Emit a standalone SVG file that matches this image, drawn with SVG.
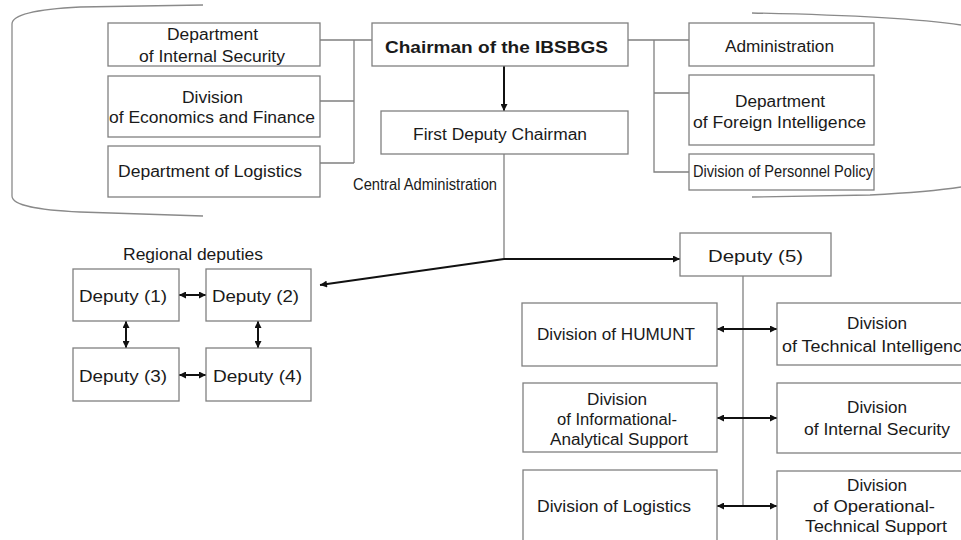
<svg xmlns="http://www.w3.org/2000/svg" width="961" height="540" viewBox="0 0 961 540">
<defs>
<style>
.box{fill:#fff;stroke:#808080;stroke-width:1.3}
.t{font-family:"Liberation Sans",Arial,sans-serif;font-size:16px;fill:#1a1a1a;text-anchor:middle}
.tree{fill:none;stroke:#808080;stroke-width:1.3}
.arr{fill:none;stroke:#111;stroke-width:2}
.br{fill:none;stroke:#8a8a8a;stroke-width:1.3}
</style>
<marker id="ah" viewBox="0 0 10 10" refX="10" refY="5" markerWidth="8" markerHeight="7" markerUnits="userSpaceOnUse" orient="auto-start-reverse">
<path d="M0,0 L10,5 L0,10 z" fill="#111"/>
</marker>
</defs>
<rect width="961" height="540" fill="#fff"/>
<g id="brackets">
<path class="br" d="M203,5 L80,7 C40,9 12,14 12,24 L12,196 C12,206 40,210 80,212 L203,216"/>
<path class="br" d="M752,13 Q900,16 961,25"/>
<path class="br" d="M752,197 L870,195 Q930,192 961,187"/>
</g>
<g id="connectors">
<path class="tree" d="M320,40 H372 M354,40 V163 M320,101 H354 M320,163 H354"/>
<path class="tree" d="M628,40 H689 M654,40 V172 H689 M654,93 H689"/>
<path class="tree" d="M504,154 V259"/>
<path class="tree" d="M743,276 V506"/>
<path class="arr" d="M504,66 V111" marker-end="url(#ah)"/>
<path class="arr" d="M504,259 H680" stroke-width="1.6" marker-end="url(#ah)"/>
<path class="arr" d="M504,259 L320,285" marker-end="url(#ah)"/>
<path class="arr" d="M717,329 H777" stroke-width="1.6" marker-start="url(#ah)" marker-end="url(#ah)"/>
<path class="arr" d="M717,418 H777" marker-start="url(#ah)" marker-end="url(#ah)"/>
<path class="arr" d="M717,506 H777" marker-start="url(#ah)" marker-end="url(#ah)"/>
<path class="arr" d="M179,295 H206" marker-start="url(#ah)" marker-end="url(#ah)"/>
<path class="arr" d="M179,375 H206" marker-start="url(#ah)" marker-end="url(#ah)"/>
<path class="arr" d="M126,321 V348" marker-start="url(#ah)" marker-end="url(#ah)"/>
<path class="arr" d="M258,321 V348" marker-start="url(#ah)" marker-end="url(#ah)"/>
</g>
<g id="n-intsec"><rect class="box" x="108" y="23" width="212" height="43"/>
<text class="t" x="212.5" y="39.5" textLength="91" lengthAdjust="spacingAndGlyphs">Department</text>
<text class="t" x="212" y="61.5" textLength="146" lengthAdjust="spacingAndGlyphs">of Internal Security</text></g>
<g id="n-econ"><rect class="box" x="108" y="76" width="212" height="61"/>
<text class="t" x="212.5" y="102.5" textLength="61" lengthAdjust="spacingAndGlyphs">Division</text>
<text class="t" x="212" y="122.5" textLength="206" lengthAdjust="spacingAndGlyphs">of Economics and Finance</text></g>
<g id="n-logist"><rect class="box" x="108" y="146" width="212" height="51"/>
<text class="t" x="210" y="177" font-size="17" textLength="184" lengthAdjust="spacingAndGlyphs">Department of Logistics</text></g>
<g id="n-chair"><rect class="box" x="372" y="23" width="256" height="43"/>
<text class="t" x="496.5" y="53" font-size="17.5" font-weight="bold" textLength="223" lengthAdjust="spacingAndGlyphs">Chairman of the IBSBGS</text></g>
<g id="n-first"><rect class="box" x="381" y="111" width="247" height="43"/>
<text class="t" x="500" y="139.5" textLength="174" lengthAdjust="spacingAndGlyphs">First Deputy Chairman</text></g>
<g id="n-central"><text class="t" x="425" y="190" font-size="13" textLength="144" lengthAdjust="spacingAndGlyphs">Central Administration</text></g>
<g id="n-admin"><rect class="box" x="689" y="23" width="185" height="43"/>
<text class="t" x="779.5" y="51.5" textLength="109" lengthAdjust="spacingAndGlyphs">Administration</text></g>
<g id="n-foreign"><rect class="box" x="689" y="75" width="185" height="70"/>
<text class="t" x="780" y="106.5" textLength="90" lengthAdjust="spacingAndGlyphs">Department</text>
<text class="t" x="779.5" y="128" textLength="173" lengthAdjust="spacingAndGlyphs">of Foreign Intelligence</text></g>
<g id="n-personnel"><rect class="box" x="689" y="154" width="185" height="36"/>
<text class="t" x="783" y="176.5" font-size="14" textLength="180" lengthAdjust="spacingAndGlyphs">Division of Personnel Policy</text></g>
<g id="n-regional"><text class="t" x="193" y="260" font-size="15" textLength="140" lengthAdjust="spacingAndGlyphs">Regional deputies</text></g>
<g id="n-dep1"><rect class="box" x="73" y="269" width="106" height="52"/>
<text class="t" x="123" y="302" font-size="17" textLength="88" lengthAdjust="spacingAndGlyphs">Deputy (1)</text></g>
<g id="n-dep2"><rect class="box" x="206" y="269" width="105" height="52"/>
<text class="t" x="255.5" y="302" font-size="17" textLength="87" lengthAdjust="spacingAndGlyphs">Deputy (2)</text></g>
<g id="n-dep3"><rect class="box" x="73" y="348" width="106" height="53"/>
<text class="t" x="123" y="381.5" font-size="17" textLength="88" lengthAdjust="spacingAndGlyphs">Deputy (3)</text></g>
<g id="n-dep4"><rect class="box" x="206" y="348" width="105" height="53"/>
<text class="t" x="257.5" y="381.5" font-size="17" textLength="89" lengthAdjust="spacingAndGlyphs">Deputy (4)</text></g>
<g id="n-dep5"><rect class="box" x="680" y="233" width="151" height="43"/>
<text class="t" x="755.5" y="262" font-size="18" textLength="95" lengthAdjust="spacingAndGlyphs">Deputy (5)</text></g>
<g id="n-humunt"><rect class="box" x="522" y="303" width="195" height="63"/>
<text class="t" x="616" y="340" textLength="158" lengthAdjust="spacingAndGlyphs">Division of HUMUNT</text></g>
<g id="n-techint"><rect class="box" x="777" y="303" width="200" height="62"/>
<text class="t" x="877" y="329" textLength="60" lengthAdjust="spacingAndGlyphs">Division</text>
<text class="t" x="877" y="351.5" textLength="190" lengthAdjust="spacingAndGlyphs">of Technical Intelligence</text></g>
<g id="n-infoanal"><rect class="box" x="523" y="383" width="194" height="69"/>
<text class="t" x="617" y="405" textLength="60" lengthAdjust="spacingAndGlyphs">Division</text>
<text class="t" x="617" y="425" textLength="120" lengthAdjust="spacingAndGlyphs">of Informational-</text>
<text class="t" x="619" y="445" textLength="138" lengthAdjust="spacingAndGlyphs">Analytical Support</text></g>
<g id="n-intsec2"><rect class="box" x="777" y="383" width="200" height="70"/>
<text class="t" x="877" y="413" textLength="60" lengthAdjust="spacingAndGlyphs">Division</text>
<text class="t" x="877" y="435" textLength="146" lengthAdjust="spacingAndGlyphs">of Internal Security</text></g>
<g id="n-logist2"><rect class="box" x="523" y="470" width="194" height="80"/>
<text class="t" x="614" y="511.5" textLength="154" lengthAdjust="spacingAndGlyphs">Division of Logistics</text></g>
<g id="n-opr"><rect class="box" x="777" y="471" width="200" height="80"/>
<text class="t" x="877" y="491" textLength="60" lengthAdjust="spacingAndGlyphs">Division</text>
<text class="t" x="874" y="511.5" textLength="122" lengthAdjust="spacingAndGlyphs">of Operational-</text>
<text class="t" x="876" y="531.5" textLength="142" lengthAdjust="spacingAndGlyphs">Technical Support</text></g>
</svg>
